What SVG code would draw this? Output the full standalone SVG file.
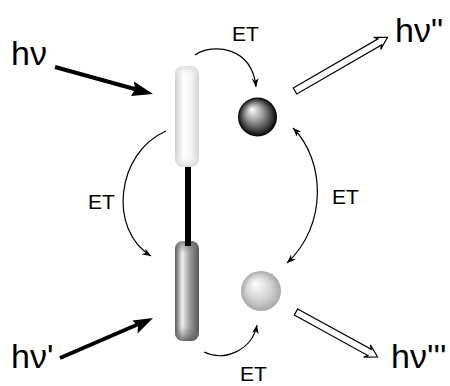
<svg xmlns="http://www.w3.org/2000/svg" width="450" height="386" viewBox="0 0 450 386">
<style>
.lbl{font-family:"Liberation Sans",Arial,sans-serif;fill:#000}
.hv{font-size:34px}
.et{font-size:21px}
.arc{fill:none;stroke:#000;stroke-width:1.2}
.hollow{fill:#fff;stroke:#000;stroke-width:1.2;stroke-linejoin:miter}
.thick{fill:none;stroke:#000;stroke-width:4}
</style>
<defs>
<marker id="ah" viewBox="0 0 10 8" refX="10" refY="4" markerWidth="9" markerHeight="7" markerUnits="userSpaceOnUse" orient="auto-start-reverse">
<path d="M0,0 L10,4 L0,8 L3,4 Z" fill="#000"/>
</marker>
<linearGradient id="rodLight" x1="0" y1="0" x2="1" y2="0">
<stop offset="0" stop-color="#cfcfcf"/>
<stop offset="0.35" stop-color="#ffffff"/>
<stop offset="0.65" stop-color="#f6f6f6"/>
<stop offset="1" stop-color="#d2d2d2"/>
</linearGradient>
<linearGradient id="rodLightV" x1="0" y1="0" x2="0" y2="1">
<stop offset="0" stop-color="#d8d8d8" stop-opacity="0.8"/>
<stop offset="0.12" stop-color="#ffffff" stop-opacity="0"/>
<stop offset="0.88" stop-color="#ffffff" stop-opacity="0"/>
<stop offset="1" stop-color="#d0d0d0" stop-opacity="0.8"/>
</linearGradient>
<linearGradient id="rodDark" x1="0" y1="0" x2="1" y2="0">
<stop offset="0" stop-color="#555555"/>
<stop offset="0.3" stop-color="#f0f0f0"/>
<stop offset="0.6" stop-color="#a0a0a0"/>
<stop offset="1" stop-color="#565656"/>
</linearGradient>
<linearGradient id="rodDarkV" x1="0" y1="0" x2="0" y2="1">
<stop offset="0" stop-color="#606060" stop-opacity="0.7"/>
<stop offset="0.12" stop-color="#808080" stop-opacity="0"/>
<stop offset="0.85" stop-color="#808080" stop-opacity="0"/>
<stop offset="1" stop-color="#555555" stop-opacity="0.8"/>
</linearGradient>
<radialGradient id="sphDark" cx="0.5" cy="0.5" r="0.5" fx="0.35" fy="0.3">
<stop offset="0" stop-color="#ffffff"/>
<stop offset="0.45" stop-color="#9a9a9a"/>
<stop offset="0.85" stop-color="#303030"/>
<stop offset="1" stop-color="#000000"/>
</radialGradient>
<radialGradient id="sphLight" cx="0.5" cy="0.5" r="0.5" fx="0.35" fy="0.3">
<stop offset="0" stop-color="#ffffff"/>
<stop offset="0.6" stop-color="#d4d4d4"/>
<stop offset="1" stop-color="#a8a8a8"/>
</radialGradient>
</defs>

<g id="rod-top">
<rect x="175" y="66" width="24" height="101" rx="8" fill="url(#rodLight)"/>
<rect x="175" y="66" width="24" height="101" rx="8" fill="url(#rodLightV)"/>
</g>
<g id="rod-bottom">
<rect x="175" y="241" width="24" height="100" rx="8" fill="url(#rodDark)"/>
<rect x="175" y="241" width="24" height="100" rx="8" fill="url(#rodDarkV)"/>
</g>
<g id="linker">
<rect x="185" y="167" width="6" height="79" fill="#000"/>
</g>
<g id="sphere-top">
<circle cx="257.5" cy="117" r="19.5" fill="url(#sphDark)"/>
</g>
<g id="sphere-bottom">
<circle cx="261" cy="291" r="20" fill="url(#sphLight)"/>
</g>

<g id="connectors">
<line class="thick" x1="55" y1="67" x2="140" y2="90.5"/>
<path d="M153,94 L131,96 L135,89.5 L134,81.5 Z" fill="#000"/>
<line class="thick" x1="60" y1="358" x2="141" y2="323"/>
<path d="M153,318 L137.5,333.5 L138,326 L132.5,320.5 Z" fill="#000"/>

<path class="arc" d="M195,55 C212,43 252,46 256,87" marker-end="url(#ah)"/>
<path class="arc" d="M166,131 C116,153 108,230 151,256" marker-end="url(#ah)"/>
<path class="arc" d="M293,128 C325,160 328,225 287,263" marker-start="url(#ah)" marker-end="url(#ah)"/>
<path class="arc" d="M204,352 C225,362 252,350 257,325" marker-end="url(#ah)"/>

<polygon class="hollow" transform="translate(295,91) rotate(-30.1)" points="0,-3.5 98,-3.5 95,-7 107,0 95,7 98,3.5 0,3.5"/>
<polygon class="hollow" transform="translate(296,312) rotate(28.8)" points="0,-3.5 84,-3.5 81,-7 93,0 81,7 84,3.5 0,3.5"/>
</g>

<g id="labels">
<text class="lbl hv" x="11" y="65">hν</text>
<text class="lbl hv" x="11" y="368">hν'</text>
<text class="lbl hv" x="395" y="42">hν"</text>
<text class="lbl hv" x="391" y="368">hν'''</text>
<text class="lbl et" x="232" y="41">ET</text>
<text class="lbl et" x="88" y="209">ET</text>
<text class="lbl et" x="332" y="204">ET</text>
<text class="lbl et" x="240" y="381">ET</text>
</g>
</svg>
